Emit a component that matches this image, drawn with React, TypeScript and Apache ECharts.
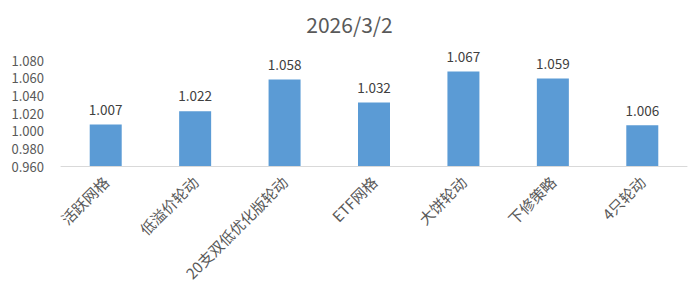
import React, { useEffect, useRef } from "react";
import * as echarts from "echarts";

const titleText = "2026/3/2";
const categories = ["活跃网格", "低溢价轮动", "20支双低优化版轮动", "ETF网格", "大饼轮动", "下修策略", "4只轮动"];
const values = [1.007, 1.022, 1.058, 1.032, 1.067, 1.059, 1.006];
const yMin = 0.96;
const yMax = 1.08;
const yInterval = 0.02;

const FONT = "'Noto Sans CJK SC', 'Noto Sans', sans-serif";

export default function App() {
  const ref = useRef<HTMLDivElement>(null);
  useEffect(() => {
    if (!ref.current) return;
    const chart = echarts.init(ref.current, undefined, { renderer: "svg" });
    chart.setOption({
      animation: false,
      backgroundColor: "#ffffff",
      title: {
        text: titleText,
        left: "center",
        top: 8,
        textStyle: { color: "#595959", fontSize: 21, fontWeight: "normal", fontFamily: FONT },
      },
      grid: { left: 61, right: 12, top: 60, bottom: 128 },
      xAxis: {
        type: "category",
        data: categories,
        axisLine: { show: true, lineStyle: { color: "#d9d9d9", width: 1 } },
        axisTick: { show: false },
        axisLabel: {
          rotate: 45,
          interval: 0,
          margin: 13,
          color: "#595959",
          fontSize: 15,
          fontFamily: FONT,
        },
      },
      yAxis: {
        type: "value",
        min: yMin,
        max: yMax,
        interval: yInterval,
        splitLine: { show: false },
        axisLine: { show: false },
        axisTick: { show: false },
        axisLabel: {
          margin: 17,
          color: "#595959",
          fontSize: 13,
          fontFamily: FONT,
          formatter: (v: number) => v.toFixed(3),
        },
      },
      series: [
        {
          type: "bar",
          data: values,
          barWidth: 32,
          itemStyle: { color: "#5b9bd5" },
          label: {
            show: true,
            position: "top",
            distance: 9,
            color: "#404040",
            fontSize: 13.5,
            fontFamily: FONT,
            formatter: (p: any) => Number(p.value).toFixed(3),
          },
        },
      ],
    });
    return () => chart.dispose();
  }, []);
  return (
    <div
      ref={ref}
      style={{ position: "fixed", left: 0, top: 0, width: 699, height: 294, background: "#fff" }}
    />
  );
}
